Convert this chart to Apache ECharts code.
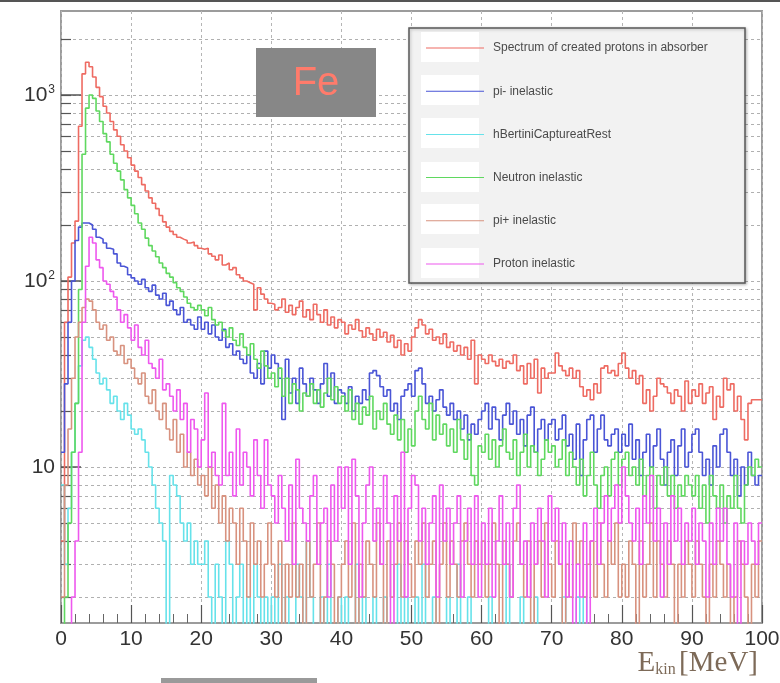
<!DOCTYPE html>
<html><head><meta charset="utf-8">
<script src="https://cdn.jsdelivr.net/npm/echarts@6/dist/echarts.min.js"></script>
<style>html,body{margin:0;padding:0;background:#fff}#c{width:780px;height:683px}</style>
</head><body><div id="c"></div>
<script>
// ---- data (counts per 0.5 MeV bin, 0..100 MeV) ----
const binWidth = 0.5;
const seriesNames = ['Spectrum of created protons in absorber','pi- inelastic','hBertiniCaptureatRest','Neutron inelastic','pi+ inelastic','Proton inelastic'];
const seriesColors = ['#ee6b62','#4a55d6','#66e2ea','#5fd85f','#d8927f','#ee58ee'];

const spectrum = [
4, 60, 105, 160, 210, 680, 1300, 1500, 1420, 1250, 1100, 980, 870, 800, 720, 650, 600, 540, 500, 460,
420, 390, 360, 330, 305, 280, 262, 245, 225, 208, 195, 185, 178, 172, 168, 165, 160, 162, 155, 150,
148, 150, 140, 136, 130, 138, 122, 125, 115, 118, 108, 104, 100, 98, 96, 70, 92, 85, 80, 76,
75, 70, 72, 80, 68, 74, 66, 72, 78, 64, 70, 62, 75, 66, 60, 70, 58, 64, 56, 62,
60, 52, 58, 55, 62, 54, 50, 56, 52, 48, 55, 50, 53, 47, 51, 44, 48, 40, 46, 42,
50, 56, 62, 58, 52, 55, 48, 50, 46, 52, 44, 47, 42, 45, 40, 44, 38, 48, 28, 40,
38, 36, 40, 37, 35, 38, 34, 37, 36, 40, 33, 35, 28, 36, 30, 38, 25, 34, 30, 32,
32, 41, 35, 33, 31, 34, 30, 33, 27, 24, 26, 23, 28, 25, 34, 35, 32, 33, 31, 36,
41, 34, 30, 33, 28, 31, 22, 26, 20, 24, 30, 28, 27, 25, 22, 26, 24, 20, 29, 22,
26, 24, 28, 22, 25, 27, 18, 24, 21, 30, 26, 28, 20, 24, 18, 14, 22, 23, 23, 23];

const piMinus = [
12, 28, 60, 100, 165, 195, 205, 205, 200, 190, 172, 168, 160, 150, 148, 140, 125, 120, 118, 108,
104, 100, 96, 102, 92, 88, 95, 84, 80, 86, 74, 78, 70, 66, 72, 60, 62, 58, 55, 64,
55, 60, 52, 58, 50, 48, 55, 44, 46, 40, 42, 38, 36, 40, 32, 30, 36, 28, 42, 34,
40, 36, 30, 18, 38, 25, 30, 22, 34, 28, 24, 30, 26, 22, 28, 36, 24, 32, 22, 26,
25, 22, 27, 20, 24, 22, 26, 23, 32, 33, 31, 27, 24, 26, 20, 22, 18, 24, 26, 28,
24, 33, 34, 28, 22, 24, 20, 23, 26, 21, 19, 22, 18, 20, 16, 19, 14, 17, 15, 18,
20, 22, 16, 21, 18, 14, 19, 22, 17, 20, 15, 18, 13, 19, 21, 12, 16, 18, 14, 17,
18, 14, 16, 19, 13, 15, 11, 17, 9, 14, 18, 19, 12, 16, 19, 14, 13, 15, 16, 12,
15, 13, 17, 11, 14, 9, 12, 15, 10, 13, 16, 11, 8, 12, 14, 9, 13, 16, 10, 12,
15, 16, 12, 9, 11, 8, 13, 10, 15, 16, 12, 9, 11, 7, 10, 8, 12, 9, 8, 9];

const bertiniCapture = [
8, 3, 6, 12, 22, 35, 48, 50, 44, 38, 32, 28, 30, 26, 22, 24, 20, 18, 22, 19,
16, 15, 16, 14, 12, 10, 8, 6, 5, 4, 1, 9, 8, 7, 5, 4, 5, 3, 4, 3,
3, 4, 2, 1, 3, 2, 1, 4, 3, 1, 2, 3, 1, 2, 1, 3, 2, 1, 2, 1,
2, 1, 3, 1, 2, 1, 1, 3, 2, 1, 4, 2, 1, 1, 2, 1, 3, 1, 1, 2,
1, 2, 1, 1, 3, 1, 2, 1, 1, 2, 1, 1, 2, 1, 1, 1, 3, 1, 2, 1,
1, 2, 1, 3, 1, 1, 2, 1, 1, 1, 2, 1, 1, 3, 1, 1, 2, 1, 1, 1,
1, 1, 2, 1, 1, 1, 1, 3, 1, 1, 1, 2, 1, 1, 1, 2, 1, 1, 1, 1,
1, 1, 1, 2, 1, 1, 1, 2, 1, 2, 1, 1, 1, 1, 1, 1, 1, 1, 1, 1,
1, 1, 1, 1, 1, 1, 1, 1, 1, 1, 1, 1, 1, 1, 1, 1, 1, 1, 1, 1,
1, 1, 1, 1, 1, 1, 1, 1, 1, 1, 1, 1, 1, 1, 1, 1, 1, 1, 1, 1];

const neutronInel = [
1, 2, 5, 12, 22, 90, 480, 850, 1000, 960, 820, 720, 620, 560, 480, 430, 390, 350, 310, 280,
255, 230, 205, 190, 170, 155, 145, 135, 125, 118, 110, 105, 98, 92, 88, 82, 76, 72, 70, 74,
70, 65, 72, 62, 58, 60, 54, 50, 56, 48, 45, 52, 44, 40, 46, 38, 34, 42, 35, 30,
32, 27, 34, 24, 30, 22, 28, 26, 20, 25, 24, 28, 22, 26, 21, 25, 30, 23, 27, 22,
24, 20, 26, 18, 22, 17, 21, 19, 24, 16, 20, 18, 22, 17, 15, 19, 14, 18, 12, 16,
13, 20, 24, 18, 16, 22, 14, 19, 15, 17, 13, 16, 12, 18, 14, 11, 15, 9, 8, 13,
12, 15, 11, 14, 10, 13, 16, 12, 11, 14, 9, 12, 15, 10, 13, 12, 9, 11, 14, 12,
13, 10, 11, 14, 9, 12, 10, 8, 11, 7, 9, 12, 8, 6, 9, 10, 7, 11, 12, 8,
11, 12, 9, 10, 8, 11, 7, 9, 10, 6, 9, 8, 10, 7, 9, 6, 8, 7, 9, 8,
7, 9, 6, 8, 5, 9, 7, 6, 8, 5, 7, 6, 9, 6, 5, 8, 10, 9, 11, 10];

const piPlus = [
2, 8, 16, 30, 50, 60, 72, 80, 78, 70, 60, 55, 58, 48, 50, 42, 40, 45, 36, 38,
34, 30, 28, 32, 24, 22, 26, 20, 18, 22, 16, 14, 18, 12, 15, 10, 12, 9, 11, 8,
9, 7, 10, 6, 8, 5, 7, 4, 6, 5, 3, 6, 4, 2, 5, 3, 4, 2, 3, 5,
3, 2, 4, 1, 3, 2, 5, 2, 3, 1, 4, 2, 3, 5, 1, 2, 4, 3, 1, 2,
3, 4, 2, 5, 1, 3, 2, 4, 3, 2, 5, 3, 1, 4, 2, 3, 5, 2, 4, 3,
2, 4, 3, 5, 2, 3, 4, 1, 3, 5, 2, 4, 3, 2, 4, 5, 3, 2, 4, 3,
4, 2, 3, 5, 3, 1, 4, 3, 2, 4, 5, 3, 2, 4, 1, 3, 4, 2, 5, 3,
2, 4, 3, 1, 3, 2, 5, 3, 4, 2, 3, 4, 2, 5, 3, 2, 4, 3, 5, 2,
3, 2, 4, 3, 1, 4, 2, 3, 5, 2, 4, 3, 2, 4, 3, 1, 3, 2, 4, 3,
2, 4, 3, 2, 1, 3, 2, 4, 3, 2, 3, 1, 2, 4, 3, 2, 1, 3, 2, 4];

const protonInel = [
1, 1, 1, 2, 4, 12, 60, 120, 172, 160, 130, 118, 100, 96, 88, 82, 70, 60, 66, 56,
48, 58, 44, 40, 48, 36, 34, 30, 38, 26, 28, 24, 20, 26, 18, 22, 12, 18, 16, 10,
14, 25, 10, 12, 9, 8, 22, 9, 12, 7, 16, 8, 12, 10, 7, 14, 9, 6, 14, 8,
7, 5, 9, 6, 4, 8, 3, 11, 6, 5, 4, 7, 9, 3, 5, 6, 2, 8, 4, 10,
6, 10, 3, 11, 7, 2, 5, 8, 10, 4, 6, 3, 9, 5, 1, 7, 4, 12, 2, 6,
9, 8, 4, 6, 3, 5, 7, 2, 8, 4, 6, 3, 5, 7, 2, 4, 6, 3, 7, 2,
5, 3, 6, 2, 4, 7, 3, 5, 2, 6, 8, 3, 4, 2, 5, 3, 6, 4, 2, 7,
4, 6, 3, 5, 2, 4, 1, 3, 2, 5, 1, 4, 6, 3, 5, 7, 4, 6, 8, 5,
10, 7, 5, 4, 6, 3, 7, 5, 9, 4, 6, 2, 5, 3, 7, 4, 6, 3, 5, 4,
6, 3, 5, 4, 2, 5, 3, 6, 4, 6, 3, 2, 5, 1, 4, 3, 5, 4, 3, 5];

const xTickLabels = ['0','10','20','30','40','50','60','70','80','90','100'];
const yMajorTicks = [10, 100, 1000];
const yMajorLabels = ['{b|10}', '{b|10}{s|2}', '{b|10}{s|3}'];
const yGridTicks = [2,3,4,5,6,7,8,9,10,20,30,40,50,60,70,80,90,100,200,300,400,500,600,700,800,900,1000,2000];
const xTitle = '{e|E}{s|kin} {e|[MeV]}';

const allSeries = [spectrum, piMinus, bertiniCapture, neutronInel, piPlus, protonInel];

function toSteps(vals) {
  const pts = vals.map((v, i) => [i * binWidth, v]);
  pts.push([vals.length * binWidth, vals[vals.length - 1]]);
  return pts;
}

const chart = echarts.init(document.getElementById('c'), null, {renderer: 'canvas'});
const rowY = [47, 90, 133, 177, 219, 263];
const lineIcon = 'path://M0,0 L0.1,0 L0.1,0.1 Z M0,19.9 L0.1,19.9 L0.1,20 Z M0,9.1 L100,9.1 L100,10.9 L0,10.9 Z';

const option = {
  animation: false,
  backgroundColor: '#ffffff',
  grid: {left: 61, top: 11, right: 18, bottom: 60, show: true, containLabel: false, outerBoundsMode: 'none',
    borderColor: '#9c9c9c', borderWidth: 2, backgroundColor: 'transparent'},
  xAxis: {
    type: 'value', min: 0, max: 100, interval: 10,
    axisLine: {show: false},
    axisTick: {show: true, inside: true, length: 18, lineStyle: {color: '#555', width: 1.2}},
    minorTick: {show: true, splitNumber: 5, length: 9, lineStyle: {color: '#666', width: 1}},
    splitLine: {show: true, lineStyle: {color: '#b5b5b5', type: [3, 3], width: 1}},
    axisLabel: {fontSize: 21, color: '#333', margin: 6, fontFamily: 'Liberation Sans',
      formatter: v => xTickLabels[Math.round(v / 10)]}
  },
  yAxis: [
    {
      type: 'log', min: 1.45, max: 2830, position: 'left',
      axisLine: {show: false},
      axisTick: {show: true, inside: true, length: 10, customValues: yGridTicks, lineStyle: {color: '#555', width: 1.2}},
      axisLabel: {show: false},
      splitLine: {show: true, lineStyle: {color: '#b0b0b0', type: [3, 3], width: 1}}
    },
    {
      type: 'log', min: 1.45, max: 2830, position: 'left',
      axisLine: {show: false},
      axisTick: {show: true, inside: true, length: 20, customValues: yMajorTicks, lineStyle: {color: '#555', width: 1.5}},
      axisLabel: {show: true, customValues: yMajorTicks, margin: 6,
        rich: {b: {fontSize: 21, color: '#333', fontFamily: 'Liberation Sans'},
               s: {fontSize: 12, color: '#333', fontFamily: 'Liberation Sans', verticalAlign: 'top', padding: [0, 0, 10, 1]}},
        formatter: v => yMajorLabels[Math.round(Math.log10(v)) - 1]},
      splitLine: {show: false}
    }
  ],
  legend: {
    orient: 'vertical', left: 421, top: rowY[0] - 11,
    itemWidth: 58, itemHeight: 14, itemGap: 29.2, z: 30,
    icon: lineIcon,
    data: seriesNames,
    textStyle: {fontSize: 12, color: '#4a4a4a', fontFamily: 'Liberation Sans', padding: [0, 0, 0, 4], height: 14, lineHeight: 14}
  },
  graphic: [
    {type: 'rect', z: 20, shape: {x: 0, y: 0, width: 780, height: 2}, style: {fill: '#555'}},
    {type: 'rect', z: 20, shape: {x: 409, y: 28, width: 336, height: 255}, style: {fill: '#f2f2f2', stroke: '#5a5a5a', lineWidth: 1.5, shadowBlur: 3, shadowColor: 'rgba(0,0,0,0.25)', shadowOffsetX: 1, shadowOffsetY: 1}},
    ...rowY.map(y => ({type: 'rect', z: 21, shape: {x: 421, y: y - 15, width: 58, height: 30}, style: {fill: '#ffffff'}})),
    {type: 'rect', z: 20, shape: {x: 256, y: 48, width: 120, height: 69}, style: {fill: '#878787'}},
    {type: 'text', z: 22, style: {x: 316, y: 84, text: 'Fe', fill: '#ff7b6b', font: '300 40px "Liberation Sans"', textAlign: 'center', textVerticalAlign: 'middle'}},
    {type: 'text', z: 22, style: {x: 758, y: 678, text: xTitle, align: 'right', verticalAlign: 'bottom',
      rich: {e: {fontFamily: 'Liberation Serif', fontSize: 29, fill: '#7d6a58'},
             s: {fontFamily: 'Liberation Serif', fontSize: 16, fill: '#7d6a58', verticalAlign: 'bottom', padding: [14, 0, 0, 0]}}}},
    {type: 'rect', z: 20, shape: {x: 161, y: 678, width: 156, height: 5}, style: {fill: '#9a9a9a'}}
  ],
  series: allSeries.map((vals, k) => ({
    name: seriesNames[k], type: 'line', step: 'end', showSymbol: false, symbol: 'none',
    yAxisIndex: 0, clip: true, z: 2,
    lineStyle: {color: seriesColors[k], width: 1.6},
    itemStyle: {color: seriesColors[k]},
    data: toSteps(vals)
  }))
};
chart.setOption(option);
</script></body></html>
